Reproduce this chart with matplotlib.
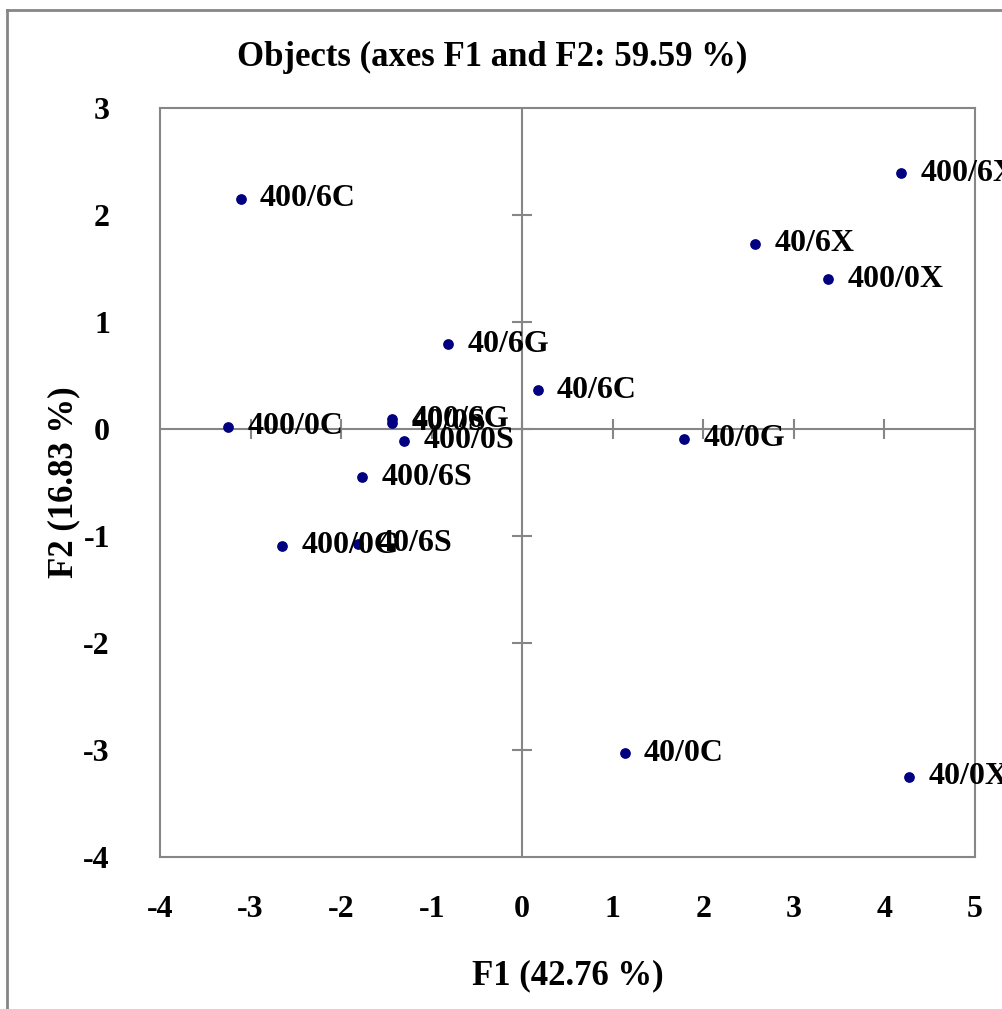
import matplotlib.pyplot as plt
from matplotlib.lines import Line2D

# PCA object scores (F1, F2)
labels = ['400/6X', '40/6X', '400/0X', '400/6C', '40/6G', '40/6C', '400/0C',
          '400/6G', '40/0S', '400/0S', '40/0G', '400/6S', '400/0G', '40/6S',
          '40/0C', '40/0X']
f1 = [4.18, 2.57, 3.38, -3.11, -0.82, 0.17, -3.25,
      -1.44, -1.44, -1.30, 1.79, -1.77, -2.65, -1.81,
      1.13, 4.27]
f2 = [2.39, 1.73, 1.40, 2.15, 0.79, 0.36, 0.02,
      0.09, 0.06, -0.11, -0.09, -0.45, -1.09, -1.07,
      -3.03, -3.25]

x_ticks = [-4, -3, -2, -1, 0, 1, 2, 3, 4, 5]
y_ticks = [-4, -3, -2, -1, 0, 1, 2, 3]

plt.rcParams['font.family'] = ['Liberation Serif', 'DejaVu Serif']
plt.rcParams['font.weight'] = 'bold'
plt.rcParams['axes.unicode_minus'] = False
grey = '#868686'

fig = plt.figure(figsize=(10.03, 10.09), dpi=100)
ax = fig.add_axes([0.1595, 0.1506, 0.8126, 0.7424])

# outer chart border (only left and top visible)
fig.add_artist(Line2D([0.007, 0.007], [0.0, 0.990], color=grey, lw=2,
                      transform=fig.transFigure))
fig.add_artist(Line2D([0.007, 1.0], [0.990, 0.990], color=grey, lw=2,
                      transform=fig.transFigure))

ax.set_xlim(-4, 5)
ax.set_ylim(-4, 3)

for s in ax.spines.values():
    s.set_color(grey)
    s.set_linewidth(1.5)

# zero lines with crossing tick marks
ax.axhline(0, color=grey, lw=1.5, zorder=1)
ax.axvline(0, color=grey, lw=1.5, zorder=1)
ax.plot(x_ticks[1:-1], [0] * len(x_ticks[1:-1]), ls='none', marker='|',
        ms=14, mew=1.5, color=grey, zorder=1)
ax.plot([0] * len(y_ticks[1:-1]), y_ticks[1:-1], ls='none', marker='_',
        ms=14, mew=1.5, color=grey, zorder=1)

ax.scatter(f1, f2, s=45, color='#000080', zorder=3)
for lab, x, y in zip(labels, f1, f2):
    ax.annotate(lab, (x, y), xytext=(14, 0), textcoords='offset points',
                va='center', ha='left', fontsize=23, fontweight='bold',
                annotation_clip=False, zorder=4)

ax.set_xticks(x_ticks)
ax.set_yticks(y_ticks)
ax.tick_params(axis='x', length=0, pad=27, labelsize=23)
ax.tick_params(axis='y', length=0, pad=36, labelsize=23)

ax.set_xlabel('F1 (42.76 %)', fontsize=25, fontweight='bold', labelpad=26)
ax.set_ylabel('F2 (16.83 %)', fontsize=25, fontweight='bold', labelpad=2)
ax.set_title('Objects (axes F1 and F2: 59.59 %)', fontsize=25,
             fontweight='bold', pad=30, x=0.407)

fig.savefig('out.png', dpi=100)
